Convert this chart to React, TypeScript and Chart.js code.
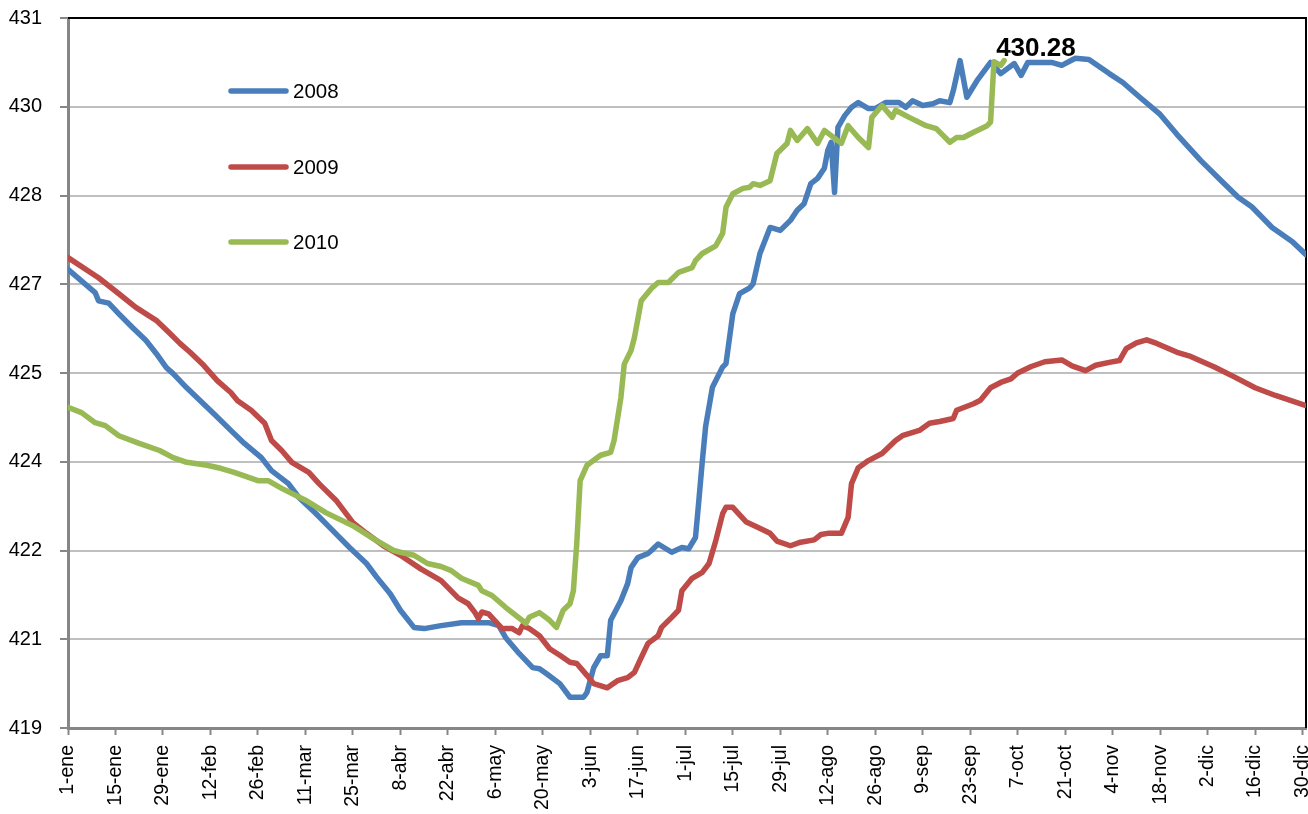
import React, { useEffect, useRef } from "react";
import { Chart, registerables } from "chart.js";

Chart.register(...registerables);

// ---- axis data ----
const tickDays = [0, 14, 28, 42, 56, 70, 84, 98, 112, 126, 140, 154, 168, 182, 196, 210, 224, 238, 252, 266, 280, 294, 308, 322, 336, 350, 364];
const tickLabels = ["1-ene", "15-ene", "29-ene", "12-feb", "26-feb", "11-mar", "25-mar", "8-abr", "22-abr", "6-may", "20-may", "3-jun", "17-jun", "1-jul", "15-jul", "29-jul", "12-ago", "26-ago", "9-sep", "23-sep", "7-oct", "21-oct", "4-nov", "18-nov", "2-dic", "16-dic", "30-dic"];
const yMin = 419;
const yMax = 431;
const yStep = 1.5;

// ---- series (day of year, value) ----
const days2008 = [0, 8, 9, 12, 15, 19, 23, 26, 29, 31, 35, 39, 43, 48, 52, 57, 60, 65, 68, 73, 78, 83, 88, 91, 95, 98, 102, 105, 110, 116, 124, 127, 129, 133, 137, 139, 141, 145, 148, 152, 153, 155, 157, 159, 160, 163, 165, 166, 168, 171, 172, 174, 178, 181, 183, 185, 186, 187, 188, 190, 193, 194, 196, 198, 201, 202, 204, 207, 210, 213, 215, 217, 219, 221, 223, 224, 225, 226, 227, 229, 231, 233, 236, 238, 241, 245, 247, 249, 252, 255, 257, 260, 261, 263, 265, 268, 272, 275, 279, 281, 283, 290, 293, 297, 301, 307, 311, 316, 322, 327, 334, 340, 345, 349, 355, 361, 365];
const values2008 = [426.75, 426.36, 426.22, 426.18, 426.0, 425.77, 425.55, 425.33, 425.09, 424.99, 424.75, 424.53, 424.31, 424.03, 423.81, 423.57, 423.35, 423.13, 422.9, 422.63, 422.34, 422.05, 421.78, 421.55, 421.27, 420.99, 420.7, 420.68, 420.73, 420.78, 420.78, 420.73, 420.53, 420.26, 420.02, 420.0, 419.92, 419.75, 419.52, 419.52, 419.6, 420.02, 420.22, 420.22, 420.82, 421.15, 421.44, 421.71, 421.88, 421.95, 422.0, 422.11, 421.97, 422.05, 422.03, 422.22, 422.85, 423.5, 424.1, 424.76, 425.1, 425.16, 426.0, 426.34, 426.44, 426.51, 427.02, 427.46, 427.41, 427.58, 427.75, 427.86, 428.2, 428.29, 428.46, 428.76, 428.9, 428.05, 429.15, 429.35, 429.49, 429.57, 429.47, 429.47, 429.57, 429.57, 429.49, 429.6, 429.52, 429.55, 429.6, 429.57, 429.77, 430.28, 429.66, 429.94, 430.25, 430.06, 430.23, 430.03, 430.25, 430.25, 430.2, 430.32, 430.3, 430.06, 429.91, 429.66, 429.37, 429.03, 428.59, 428.25, 427.97, 427.81, 427.46, 427.22, 427.0];

const days2009 = [0, 9, 15, 20, 23, 26, 30, 33, 36, 40, 44, 48, 50, 54, 58, 60, 63, 66, 71, 74, 79, 84, 88, 93, 98, 104, 110, 115, 118, 120, 121, 122, 124, 128, 131, 133, 134, 136, 139, 142, 145, 148, 150, 153, 155, 159, 162, 165, 167, 169, 171, 174, 175, 178, 180, 181, 184, 187, 189, 191, 193, 194, 196, 200, 203, 207, 209, 213, 216, 220, 222, 224, 228, 230, 231, 233, 236, 240, 244, 246, 251, 254, 257, 261, 262, 267, 269, 272, 275, 278, 280, 284, 288, 293, 296, 300, 303, 307, 310, 312, 315, 318, 321, 327, 331, 338, 344, 350, 356, 365];
const values2009 = [426.95, 426.61, 426.34, 426.11, 426.0, 425.89, 425.67, 425.5, 425.35, 425.13, 424.87, 424.67, 424.53, 424.37, 424.15, 423.86, 423.69, 423.49, 423.32, 423.13, 422.85, 422.47, 422.29, 422.08, 421.92, 421.69, 421.49, 421.2, 421.1, 420.95, 420.85, 420.96, 420.93, 420.68, 420.68, 420.61, 420.73, 420.68, 420.56, 420.34, 420.23, 420.11, 420.09, 419.89, 419.75, 419.68, 419.8, 419.85, 419.94, 420.19, 420.43, 420.56, 420.7, 420.87, 420.99, 421.32, 421.53, 421.63, 421.78, 422.17, 422.62, 422.73, 422.73, 422.48, 422.4, 422.29, 422.16, 422.08, 422.14, 422.18, 422.27, 422.29, 422.29, 422.56, 423.13, 423.4, 423.52, 423.64, 423.86, 423.94, 424.03, 424.15, 424.18, 424.23, 424.37, 424.48, 424.54, 424.75, 424.84, 424.9, 425.0, 425.11, 425.19, 425.22, 425.12, 425.04, 425.13, 425.18, 425.21, 425.41, 425.51, 425.56, 425.5, 425.35, 425.28, 425.1, 424.93, 424.75, 424.62, 424.45];

const days2010 = [0, 4, 8, 11, 15, 21, 27, 31, 35, 41, 45, 49, 56, 59, 63, 70, 76, 84, 90, 96, 98, 102, 106, 110, 113, 116, 121, 122, 125, 129, 135, 136, 139, 142, 144, 146, 148, 149, 150, 151, 153, 157, 160, 161, 163, 164, 166, 167, 169, 172, 174, 177, 180, 184, 185, 187, 191, 193, 194, 196, 199, 201, 202, 204, 207, 209, 212, 213, 215, 218, 221, 223, 228, 230, 233, 236, 237, 240, 243, 244, 248, 253, 256, 260, 262, 264, 267, 271, 272, 273, 275, 276];
const values2010 = [424.42, 424.33, 424.16, 424.11, 423.94, 423.81, 423.69, 423.57, 423.49, 423.44, 423.39, 423.32, 423.18, 423.18, 423.05, 422.85, 422.64, 422.42, 422.2, 422.0, 421.97, 421.92, 421.78, 421.73, 421.66, 421.53, 421.41, 421.32, 421.24, 421.04, 420.77, 420.87, 420.95, 420.82, 420.7, 420.99, 421.1, 421.32, 422.12, 423.18, 423.44, 423.61, 423.66, 423.86, 424.58, 425.15, 425.38, 425.6, 426.22, 426.43, 426.53, 426.53, 426.7, 426.78, 426.9, 427.02, 427.15, 427.36, 427.8, 428.03, 428.12, 428.14, 428.2, 428.17, 428.25, 428.71, 428.88, 429.1, 428.93, 429.13, 428.88, 429.1, 428.88, 429.18, 428.98, 428.81, 429.32, 429.52, 429.32, 429.44, 429.32, 429.18, 429.13, 428.9, 428.98, 428.98, 429.07, 429.18, 429.24, 430.26, 430.2, 430.28];

const seriesNames = ["2008", "2009", "2010"];
const seriesColors = ["#4A7EBB", "#BE4B48", "#98B954"];
const lastLabel = "430.28";

const FONT = '"Liberation Sans", Arial, sans-serif';

function toPoints(days: number[], vals: number[]) {
  return days.map((d, i) => ({ x: d, y: vals[i] }));
}

export default function App() {
  const ref = useRef<HTMLCanvasElement>(null);

  useEffect(() => {
    const canvas = ref.current;
    if (!canvas) return;

    const overlay = {
      id: "overlay",
      beforeDatasetsDraw(chart: any) {
        const { ctx, chartArea } = chart;
        ctx.save();
        ctx.strokeStyle = "#000";
        ctx.lineWidth = 2;
        ctx.beginPath();
        ctx.moveTo(chartArea.left, chartArea.top);
        ctx.lineTo(chartArea.right, chartArea.top);
        ctx.lineTo(chartArea.right, chartArea.bottom);
        ctx.stroke();
        ctx.restore();
      },
      afterDatasetsDraw(chart: any) {
        const { ctx } = chart;
        ctx.save();
        // legend
        const ys = [91, 167, 242];
        chart.data.datasets.forEach((ds: any, i: number) => {
          ctx.strokeStyle = ds.borderColor;
          ctx.lineWidth = 5.5;
          ctx.lineCap = "round";
          ctx.beginPath();
          ctx.moveTo(231, ys[i]);
          ctx.lineTo(286, ys[i]);
          ctx.stroke();
          ctx.fillStyle = "#000";
          ctx.font = `20.5px ${FONT}`;
          ctx.textAlign = "left";
          ctx.textBaseline = "middle";
          ctx.fillText(ds.label, 293, ys[i] + 1);
        });
        // data label at last 2010 point
        const meta = chart.getDatasetMeta(2);
        const pt = meta.data[meta.data.length - 1];
        if (pt) {
          ctx.fillStyle = "#000";
          ctx.font = `bold 26px ${FONT}`;
          ctx.textAlign = "left";
          ctx.textBaseline = "alphabetic";
          ctx.fillText(lastLabel, pt.x - 8, pt.y - 5);
        }
        ctx.restore();
      },
    };

    const seriesDays = [days2008, days2009, days2010];
    const seriesVals = [values2008, values2009, values2010];

    const chart = new Chart(canvas, {
      type: "line",
      data: {
        datasets: seriesNames.map((name, i) => ({
          label: name,
          data: toPoints(seriesDays[i], seriesVals[i]),
          borderColor: seriesColors[i],
          backgroundColor: seriesColors[i],
          borderWidth: 5.5,
          pointRadius: 0,
          tension: 0,
          borderJoinStyle: "round" as const,
          borderCapStyle: "round" as const,
          order: 2 - i,
          fill: false,
        })),
      },
      options: {
        responsive: false,
        animation: false,
        layout: { padding: { top: 18, right: 2, left: 0, bottom: 0 }, autoPadding: false } as any,
        plugins: {
          legend: { display: false },
          tooltip: { enabled: false },
        },
        scales: {
          x: {
            type: "linear",
            min: 0,
            max: 365,
            afterBuildTicks: (s: any) => {
              s.ticks = tickDays.map((v) => ({ value: v }));
            },
            afterFit: (s: any) => {
              s.height = 86;
              s.paddingLeft = 0;
              s.paddingRight = 0;
            },
            grid: {
              drawOnChartArea: false,
              drawTicks: true,
              tickLength: 7,
              tickColor: "#868686",
              tickWidth: 2,
              color: "#868686",
            },
            border: { color: "#868686", width: 3 },
            ticks: {
              autoSkip: false,
              minRotation: 90,
              maxRotation: 90,
              padding: 10,
              color: "#000",
              font: { family: FONT, size: 19.5 },
              callback: (_v: any, i: number) => tickLabels[i],
            },
          },
          y: {
            type: "linear",
            min: yMin,
            max: yMax,
            afterFit: (s: any) => {
              s.width = 68;
              s.paddingTop = 0;
              s.paddingBottom = 0;
            },
            grid: {
              color: "#BFBFBF",
              lineWidth: 2,
              drawTicks: true,
              tickLength: 8,
              tickColor: "#868686",
              tickWidth: 2,
            },
            border: { color: "#868686", width: 3 },
            ticks: {
              stepSize: yStep,
              padding: 18,
              color: "#000",
              font: { family: FONT, size: 20 },
              callback: (v: any) => String(Math.round(Number(v))),
            },
          },
        },
      },
      plugins: [overlay],
    } as any);

    return () => chart.destroy();
  }, []);

  return (
    <div style={{ position: "fixed", left: 0, top: 0, width: 1308, height: 814, background: "#fff" }}>
      <canvas ref={ref} width={1308} height={814} style={{ display: "block", width: 1308, height: 814 }} />
    </div>
  );
}
